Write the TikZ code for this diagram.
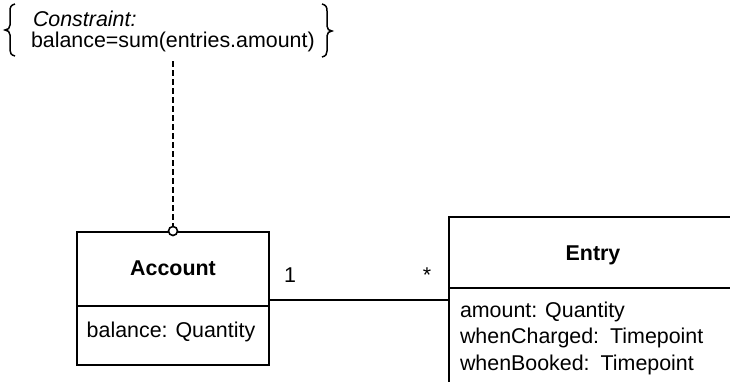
\documentclass[tikz,border=0pt]{standalone}
\usepackage{fontspec}
\setmainfont{Liberation Sans}
\begin{document}
\begin{tikzpicture}[x=1pt,y=-1pt,line width=2pt,
  every node/.style={font=\fontsize{21.4}{26.5}\selectfont, inner sep=0pt},
  classbox/.style={draw, rectangle, inner sep=0pt},
  brace/.style={line width=1.5pt, line join=miter},
  constr/.style={dash pattern=on 6pt off 3pt, line width=2pt},
  pin/.style={draw, circle, fill=white, minimum size=9pt, line width=1.6pt}]
\useasboundingbox (0,0) rectangle (730,381);
\clip (0,0) rectangle (730,381);

% constraint
\draw[brace] (15,4) .. controls (11,5) and (10,7) .. (10,11) -- (10,25) .. controls (10,28) and (8,30) .. (5,30)
  .. controls (8,30) and (10,32) .. (10,35) -- (10,50) .. controls (10,53) and (11,55) .. (15,56);
\draw[brace] (322,4) .. controls (326,5) and (327,7) .. (327,11) -- (327,26) .. controls (327,29) and (329,31) .. (332,31)
  .. controls (329,31) and (327,33) .. (327,36) -- (327,51) .. controls (327,54) and (326,56) .. (322,57);
\node[anchor=base west] (ctitle) at (32,26) {\itshape Constraint:};
\node[anchor=base west] (cbody) at (30,47) {balance=sum(entries.amount)};
\coordinate (dstart) at (173,61);

% Account
\node[classbox, minimum width=192pt, minimum height=133pt] (acc) at (173,298.5) {};
\draw (acc.west |- 0,306) -- (acc.east |- 0,306);
\node[anchor=base] (accname) at (173,275) {\bfseries Account};
\node[anchor=base] (accattr) at (171,337) {balance: Quantity};

% Entry
\node[classbox, anchor=north west, minimum width=290pt, minimum height=200pt] (ent) at (448,216) {};
\draw (ent.west |- 0,288) -- (ent.east |- 0,288);
\node[anchor=base] (entname) at (593,260) {\bfseries Entry};
\node[anchor=base west] (a1) at (459,317) {amount: Quantity};
\node[anchor=base west] (a2) at (459,343) {whenCharged:\hspace{11pt}Timepoint};
\node[anchor=base west] (a3) at (459,370) {whenBooked:\hspace{11pt}Timepoint};

% association
\draw (acc.east |- 0,300) -- (ent.west |- 0,300);
\node[anchor=base west] (m1) at (283,282) {1};
\node[anchor=base] (m2) at (427,282) {*};

% constraint connector
\draw[constr] (dstart) -- (acc.north);
\node[pin] (pinc) at (acc.north) {};
\end{tikzpicture}
\end{document}
